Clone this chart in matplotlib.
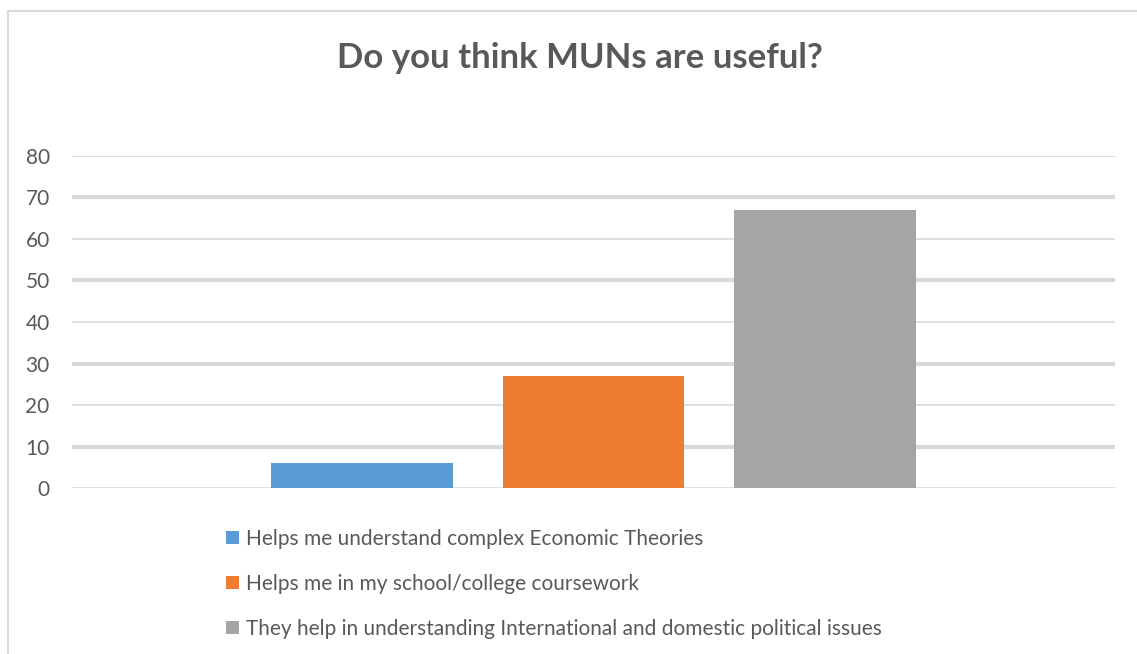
import matplotlib.pyplot as plt
from matplotlib.patches import Rectangle

# survey answers, one bar per answer
labels = [
    "Helps me understand complex Economic Theories",
    "Helps me in my school/college coursework",
    "They help in understanding International and domestic political issues",
]
values = [6, 27, 67]
colors = ["#5b9bd5", "#ed7d31", "#a5a5a5"]
yticks = [0, 10, 20, 30, 40, 50, 60, 70, 80]

plt.rcParams["font.family"] = ["Lato", "DejaVu Sans"]

fig = plt.figure(figsize=(11.37, 6.54), dpi=100)
ax = fig.add_axes([0.0633, 0.2538, 0.9174, 0.5077])

# light border of the chart area, clipped at right and bottom edges
fig.patches.append(Rectangle((8 / 1137, -0.05), 1.1, 1 - 11 / 654 + 0.05,
                             transform=fig.transFigure, fill=False,
                             edgecolor="#d9d9d9", linewidth=1.5))

positions = [-1, 0, 1]
handles = []
for pos, val, col, lab in zip(positions, values, colors, labels):
    h = ax.bar(pos, val, width=0.785, color=col, zorder=3, label=lab)
    handles.append(h)

ax.set_xlim(-2.25, 2.25)
ax.set_ylim(0, 80)
ax.set_yticks(yticks)
ax.set_xticks([])
for t in yticks:
    lw = 3 if t % 20 == 10 else 1.2
    ax.axhline(t, color="#d9d9d9", linewidth=lw, zorder=1)
for s in ax.spines.values():
    s.set_visible(False)
ax.tick_params(axis="y", length=0, pad=16, labelsize=15, labelcolor="#595959")

fig.text(0.51, 0.912, "Do you think MUNs are useful?", ha="center", va="center",
         fontsize=25, fontweight="bold", color="#595959")

fig.legend(handles=handles, labels=labels, loc="upper left",
           bbox_to_anchor=(226 / 1137, 1 - 529 / 654), frameon=False,
           fontsize=15, labelcolor="#595959", handlelength=0.6,
           handleheight=0.6, handletextpad=0.35, labelspacing=1.2,
           borderpad=0, borderaxespad=0)

fig.savefig("out.png", dpi=100)
